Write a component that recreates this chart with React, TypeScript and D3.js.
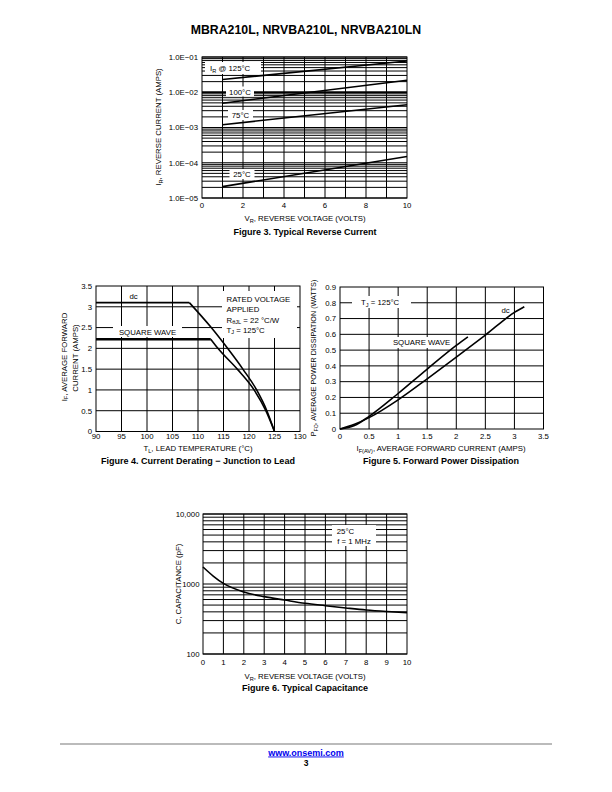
import React from "react";
import * as d3 from "d3";

const FONT = "'Liberation Sans', Arial, Helvetica, sans-serif";

// ---------- Figure 3 data ----------
const f3Volts = [1, 10];
const f3Ir125 = [0.023, 0.077];
const f3Ir100 = [0.0049, 0.022];
const f3Ir75 = [0.0012, 0.0044];
const f3Ir25 = [2.1e-5, 1.5e-4];
const f3YTickVals = [1e-5, 1e-4, 1e-3, 1e-2, 1e-1];
const f3YTickLabels = ["1.0E−05", "1.0E−04", "1.0E−03", "1.0E−02", "1.0E−01"];
const f3XTicks = [0, 2, 4, 6, 8, 10];

// ---------- Figure 4 data ----------
const f4DcT = [90, 108.3, 112.6, 115.8, 118.8, 121.5, 123.5, 125];
const f4DcI = [3.1, 3.1, 2.5, 2.0, 1.5, 1.0, 0.5, 0];
const f4SqT = [90, 112.5, 113.9, 117.7, 121.0, 123.3, 125];
const f4SqI = [2.22, 2.22, 2.0, 1.5, 1.0, 0.5, 0];
const f4XTicks = [90, 95, 100, 105, 110, 115, 120, 125, 130];
const f4YTicks = [0, 0.5, 1, 1.5, 2, 2.5, 3, 3.5];

// ---------- Figure 5 data ----------
const f5SqI = [0, 0.25, 0.5, 1.0, 1.5, 2.0, 2.2];
const f5SqP = [0, 0.022, 0.08, 0.225, 0.38, 0.53, 0.584];
const f5DcI = [0, 0.25, 0.5, 1.0, 1.5, 2.0, 2.5, 3.0, 3.17];
const f5DcP = [0, 0.03, 0.072, 0.185, 0.318, 0.455, 0.595, 0.739, 0.775];
const f5XTicks = [0, 0.5, 1, 1.5, 2, 2.5, 3, 3.5];
const f5YTicks = [0, 0.1, 0.2, 0.3, 0.4, 0.5, 0.6, 0.7, 0.8, 0.9];

// ---------- Figure 6 data ----------
const f6V = [0, 0.5, 1, 2, 3, 4, 5, 6, 7, 8, 9, 10];
const f6C = [1750, 1300, 1020, 770, 660, 590, 530, 490, 455, 425, 405, 390];
const f6XTicks = [0, 1, 2, 3, 4, 5, 6, 7, 8, 9, 10];
const f6YTickVals = [100, 1000, 10000];
const f6YTickLabels = ["100", "1000", "10,000"];

const GRID = 1;
const CURVE = 1.6;
const FS = 7.8;

function Sub({ children }: { children: React.ReactNode }) {
  return (
    <tspan dy={1.8} fontSize="0.72em">
      {children}
    </tspan>
  );
}

function Figure3() {
  const x = d3.scaleLinear().domain([0, 10]).range([202, 407]);
  const y = d3.scaleLog().domain([1e-5, 1e-1]).range([198, 57]);
  const line = d3
    .line<[number, number]>()
    .x((d) => x(d[0]))
    .y((d) => y(d[1]));
  const series = [f3Ir125, f3Ir100, f3Ir75, f3Ir25];
  const hTicks = y.ticks();
  const [x0, x1] = x.range();
  const [y0, y1] = y.range();
  return (
    <g>
      {d3.range(1, 10).map((v) => (
        <line key={"v" + v} x1={x(v)} x2={x(v)} y1={y0} y2={y1} stroke="#000" strokeWidth={GRID} />
      ))}
      {hTicks.map((t, i) => {
        const thick = Math.abs(Math.log10(t) + 2) < 1e-6;
        return (
          <line key={"h" + i} x1={x0} x2={x1} y1={y(t)} y2={y(t)} stroke="#000" strokeWidth={thick ? 2 : GRID} />
        );
      })}
      <rect x={x0} y={y1} width={x1 - x0} height={y0 - y1} fill="none" stroke="#000" strokeWidth={1} />
      {series.map((s, i) => (
        <path
          key={"s" + i}
          d={line(f3Volts.map((v, j) => [v, s[j]] as [number, number])) || ""}
          fill="none"
          stroke="#000"
          strokeWidth={CURVE}
        />
      ))}
      {/* labels */}
      <rect x={205} y={62} width={56} height={12} fill="#fff" />
      <text x={210} y={71} fontSize={FS}>
        I<Sub>R</Sub>
        <tspan dy={-1.8}> @ 125°C</tspan>
      </text>
      <rect x={226} y={86.5} width={28} height={10} fill="#fff" />
      <text x={240} y={94.5} fontSize={FS} textAnchor="middle">100°C</text>
      <rect x={228} y={110} width={25} height={10} fill="#fff" />
      <text x={240.5} y={118} fontSize={FS} textAnchor="middle">75°C</text>
      <rect x={229.5} y={169} width={25} height={10} fill="#fff" />
      <text x={242} y={177} fontSize={FS} textAnchor="middle">25°C</text>
      {/* axes labels */}
      {f3YTickVals.map((t, i) => (
        <text key={"yl" + i} x={198} y={y(t) + 2.8} fontSize={FS} textAnchor="end">
          {f3YTickLabels[i]}
        </text>
      ))}
      {f3XTicks.map((t) => (
        <text key={"xl" + t} x={x(t)} y={208} fontSize={FS} textAnchor="middle">
          {t}
        </text>
      ))}
      <text x={305} y={221} fontSize={FS} textAnchor="middle">
        V<Sub>R</Sub>
        <tspan dy={-1.8}>, REVERSE VOLTAGE (VOLTS)</tspan>
      </text>
      <text x={305} y={235} fontSize={9} fontWeight="bold" textAnchor="middle">
        Figure 3. Typical Reverse Current
      </text>
      <text transform="translate(161,127) rotate(-90)" fontSize={FS} textAnchor="middle">
        I<Sub>R</Sub>
        <tspan dy={-1.8}>, REVERSE CURRENT (AMPS)</tspan>
      </text>
    </g>
  );
}

function Figure4() {
  const x = d3.scaleLinear().domain([90, 130]).range([96, 300]);
  const y = d3.scaleLinear().domain([0, 3.5]).range([431.5, 286]);
  const [x0, x1] = x.range();
  const [y0, y1] = y.range();
  const lin = d3
    .line<[number, number]>()
    .x((d) => x(d[0]))
    .y((d) => y(d[1]));
  const curv = d3
    .line<[number, number]>()
    .x((d) => x(d[0]))
    .y((d) => y(d[1]))
    .curve(d3.curveMonotoneX);
  const dc = f4DcT.map((t, i) => [t, f4DcI[i]] as [number, number]);
  const sq = f4SqT.map((t, i) => [t, f4SqI[i]] as [number, number]);
  return (
    <g>
      {f4XTicks.slice(1, -1).map((v) => (
        <line key={"v" + v} x1={x(v)} x2={x(v)} y1={y0} y2={y1} stroke="#000" strokeWidth={GRID} />
      ))}
      {f4YTicks.slice(1, -1).map((v) => (
        <line key={"h" + v} x1={x0} x2={x1} y1={y(v)} y2={y(v)} stroke="#000" strokeWidth={GRID} />
      ))}
      <rect x={x0} y={y1} width={x1 - x0} height={y0 - y1} fill="none" stroke="#000" strokeWidth={1} />
      {/* label boxes */}
      <rect x={113} y={326} width={69} height={11} fill="#fff" />
      <rect x={222} y={291} width={75} height={47} fill="#fff" />
      <path d={lin(dc.slice(0, 2)) || ""} fill="none" stroke="#000" strokeWidth={CURVE} />
      <path d={curv(dc.slice(1)) || ""} fill="none" stroke="#000" strokeWidth={CURVE} />
      <path d={lin(sq.slice(0, 2)) || ""} fill="none" stroke="#000" strokeWidth={2.4} />
      <path d={curv(sq.slice(1)) || ""} fill="none" stroke="#000" strokeWidth={CURVE} />
      <text x={133.5} y={299} fontSize={FS} textAnchor="middle">dc</text>
      <text x={147.5} y={334.8} fontSize={FS} textAnchor="middle">SQUARE WAVE</text>
      <text x={226.5} y={301.8} fontSize={FS}>RATED VOLTAGE</text>
      <text x={226.5} y={311.5} fontSize={FS}>APPLIED</text>
      <text x={226.5} y={322.5} fontSize={FS}>
        R<Sub>θJL</Sub>
        <tspan dy={-1.8}> = 22 °C/W</tspan>
      </text>
      <text x={226.5} y={332.5} fontSize={FS}>
        T<Sub>J</Sub>
        <tspan dy={-1.8}> = 125°C</tspan>
      </text>
      {f4YTicks.map((t) => (
        <text key={"yl" + t} x={92} y={y(t) + 2.8} fontSize={FS} textAnchor="end">
          {t}
        </text>
      ))}
      {f4XTicks.map((t) => (
        <text key={"xl" + t} x={x(t)} y={438.8} fontSize={FS} textAnchor="middle">
          {t}
        </text>
      ))}
      <text x={198} y={451} fontSize={FS} textAnchor="middle">
        T<Sub>L</Sub>
        <tspan dy={-1.8}>, LEAD TEMPERATURE (°C)</tspan>
      </text>
      <text x={198} y={464} fontSize={9} fontWeight="bold" textAnchor="middle">
        Figure 4. Current Derating − Junction to Lead
      </text>
      <text transform="translate(66.5,357) rotate(-90)" fontSize={FS} textAnchor="middle">
        I<Sub>F</Sub>
        <tspan dy={-1.8}>, AVERAGE FORWARD</tspan>
      </text>
      <text transform="translate(77.5,358) rotate(-90)" fontSize={FS} textAnchor="middle">
        CURRENT (AMPS)
      </text>
    </g>
  );
}

function Figure5() {
  const x = d3.scaleLinear().domain([0, 3.5]).range([340, 543.5]);
  const y = d3.scaleLinear().domain([0, 0.9]).range([429, 287]);
  const [x0, x1] = x.range();
  const [y0, y1] = y.range();
  const curv = d3
    .line<[number, number]>()
    .x((d) => x(d[0]))
    .y((d) => y(d[1]))
    .curve(d3.curveMonotoneX);
  const sq = f5SqI.map((v, i) => [v, f5SqP[i]] as [number, number]);
  const dc = f5DcI.map((v, i) => [v, f5DcP[i]] as [number, number]);
  return (
    <g>
      {f5XTicks.slice(1, -1).map((v) => (
        <line key={"v" + v} x1={x(v)} x2={x(v)} y1={y0} y2={y1} stroke="#000" strokeWidth={GRID} />
      ))}
      {f5YTicks.slice(1, -1).map((v) => (
        <line key={"h" + v} x1={x0} x2={x1} y1={y(v)} y2={y(v)} stroke="#000" strokeWidth={GRID} />
      ))}
      <rect x={x0} y={y1} width={x1 - x0} height={y0 - y1} fill="none" stroke="#000" strokeWidth={1} />
      <rect x={352} y={296} width={59} height={12} fill="#fff" />
      <rect x={389} y={337} width={65} height={11} fill="#fff" />
      <path d={curv(sq) || ""} fill="none" stroke="#000" strokeWidth={CURVE} />
      <path d={curv(dc) || ""} fill="none" stroke="#000" strokeWidth={CURVE} />
      <text x={361} y={304.8} fontSize={FS}>
        T<Sub>J</Sub>
        <tspan dy={-1.8}> = 125°C</tspan>
      </text>
      <text x={421.5} y={345.3} fontSize={FS} textAnchor="middle">SQUARE WAVE</text>
      <text x={505.5} y={313} fontSize={FS} textAnchor="middle">dc</text>
      {f5YTicks.map((t) => (
        <text key={"yl" + t} x={336} y={y(t) + 2.8} fontSize={FS} textAnchor="end">
          {t}
        </text>
      ))}
      {f5XTicks.map((t) => (
        <text key={"xl" + t} x={x(t)} y={438.8} fontSize={FS} textAnchor="middle">
          {t}
        </text>
      ))}
      <text x={441} y={451} fontSize={FS} textAnchor="middle">
        I<Sub>F(AV)</Sub>
        <tspan dy={-1.8}>, AVERAGE FORWARD CURRENT (AMPS)</tspan>
      </text>
      <text x={441} y={464} fontSize={9} fontWeight="bold" textAnchor="middle">
        Figure 5. Forward Power Dissipation
      </text>
      <text transform="translate(316,358) rotate(-90)" fontSize={7.2} textAnchor="middle">
        P<Sub>FO</Sub>
        <tspan dy={-1.8}>, AVERAGE POWER DISSIPATION (WATTS)</tspan>
      </text>
    </g>
  );
}

function Figure6() {
  const x = d3.scaleLinear().domain([0, 10]).range([203, 407]);
  const y = d3.scaleLog().domain([100, 10000]).range([654, 514]);
  const [x0, x1] = x.range();
  const [y0, y1] = y.range();
  const curv = d3
    .line<[number, number]>()
    .x((d) => x(d[0]))
    .y((d) => y(d[1]))
    .curve(d3.curveMonotoneX);
  const pts = f6V.map((v, i) => [v, f6C[i]] as [number, number]);
  const hTicks = y.ticks();
  return (
    <g>
      {f6XTicks.slice(1, -1).map((v) => (
        <line key={"v" + v} x1={x(v)} x2={x(v)} y1={y0} y2={y1} stroke="#000" strokeWidth={GRID} />
      ))}
      {hTicks.map((t, i) => (
        <line key={"h" + i} x1={x0} x2={x1} y1={y(t)} y2={y(t)} stroke="#000" strokeWidth={GRID} />
      ))}
      <rect x={x0} y={y1} width={x1 - x0} height={y0 - y1} fill="none" stroke="#000" strokeWidth={1} />
      <rect x={332} y={525} width={44} height={21} fill="#fff" />
      <path d={curv(pts) || ""} fill="none" stroke="#000" strokeWidth={CURVE} />
      <text x={345.5} y={533.8} fontSize={FS} textAnchor="middle">25°C</text>
      <text x={354} y={543.8} fontSize={FS} textAnchor="middle">f = 1 MHz</text>
      {f6YTickVals.map((t, i) => (
        <text key={"yl" + i} x={199.5} y={y(t) + 2.8} fontSize={FS} textAnchor="end">
          {f6YTickLabels[i]}
        </text>
      ))}
      {f6XTicks.map((t) => (
        <text key={"xl" + t} x={x(t)} y={664.8} fontSize={FS} textAnchor="middle">
          {t}
        </text>
      ))}
      <text x={305} y={678.8} fontSize={FS} textAnchor="middle">
        V<Sub>R</Sub>
        <tspan dy={-1.8}>, REVERSE VOLTAGE (VOLTS)</tspan>
      </text>
      <text x={305} y={691} fontSize={9} fontWeight="bold" textAnchor="middle">
        Figure 6. Typical Capacitance
      </text>
      <text transform="translate(180.5,584) rotate(-90)" fontSize={FS} textAnchor="middle">
        C, CAPACITANCE (pF)
      </text>
    </g>
  );
}

export default function App() {
  return (
    <svg
      width={612}
      height={792}
      viewBox="0 0 612 792"
      style={{ position: "absolute", left: 0, top: 0, background: "#fff" }}
      fontFamily={FONT}
    >
      <rect x={0} y={0} width={612} height={792} fill="#fff" />
      <text x={306} y={34.3} fontSize={12.3} fontWeight="bold" textAnchor="middle">
        MBRA210L, NRVBA210L, NRVBA210LN
      </text>
      <Figure3 />
      <Figure4 />
      <Figure5 />
      <Figure6 />
      <line x1={60} x2={552} y1={744} y2={744} stroke="#bbb" strokeWidth={2} />
      <text x={306} y={755.5} fontSize={9} fontWeight="bold" textAnchor="middle" fill="#0000ee" textDecoration="underline">
        www.onsemi.com
      </text>
      <text x={306} y={765.5} fontSize={8.5} fontWeight="bold" textAnchor="middle">
        3
      </text>
    </svg>
  );
}
